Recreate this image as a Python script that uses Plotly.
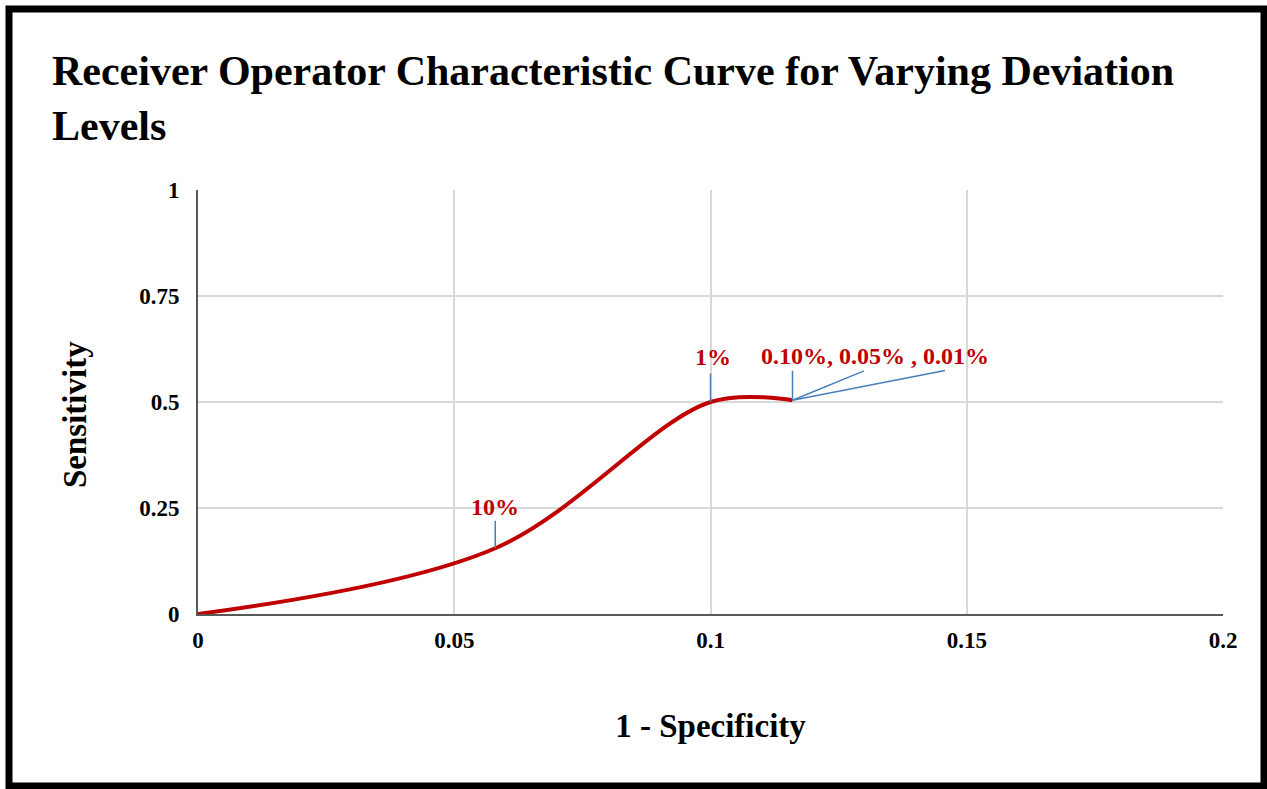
import plotly.graph_objects as go

# ROC points for each deviation level
deviation_levels = ["", "10%", "1%", "0.10%", "0.05%", "0.01%"]
false_pos_rate = [0.0, 0.058, 0.100, 0.116, 0.116, 0.116]
sensitivity = [0.0, 0.155, 0.500, 0.504, 0.504, 0.504]

x_ticks = [0, 0.05, 0.1, 0.15, 0.2]
x_tick_text = ["0", "0.05", "0.1", "0.15", "0.2"]
y_ticks = [0, 0.25, 0.5, 0.75, 1]
y_tick_text = ["0", "0.25", "0.5", "0.75", "1"]

SERIF = "Liberation Serif, Times New Roman, serif"
RED = "#c00000"
BLUE = "#4a7ebb"

W, H = 1267, 789
L, R, T, B = 198, 44, 190, 175
PW, PH = W - L - R, H - T - B


def px_x(px):
    return (px - L) / PW


def px_y(py):
    return (H - B - py) / PH


fig = go.Figure()
fig.add_trace(
    go.Scatter(
        x=false_pos_rate,
        y=sensitivity,
        mode="lines",
        line=dict(color=RED, width=4, shape="spline", smoothing=1),
        hoverinfo="skip",
        showlegend=False,
    )
)

# leader lines: (point index, tail offset x, tail offset y)
leaders = [(1, 0, -29), (2, 0, -30), (3, 0, -31), (4, 73, -30), (5, 154, -30)]
for i, ax, ay in leaders:
    fig.add_annotation(
        x=false_pos_rate[i], y=sensitivity[i], text="",
        showarrow=True, arrowhead=0, arrowwidth=1.5, arrowcolor=BLUE,
        ax=ax, ay=ay, standoff=0, startstandoff=0,
    )

label_font = dict(family=SERIF, size=24, color=RED, weight="bold")
fig.add_annotation(
    x=false_pos_rate[1], y=sensitivity[1], text=deviation_levels[1],
    showarrow=False, yshift=41, font=label_font,
)
fig.add_annotation(
    x=false_pos_rate[2], y=sensitivity[2], text=deviation_levels[2],
    showarrow=False, xshift=2, yshift=45, font=label_font,
)
fig.add_annotation(
    x=false_pos_rate[3], y=sensitivity[3],
    text=f"{deviation_levels[3]}, {deviation_levels[4]} , {deviation_levels[5]}",
    showarrow=False, xanchor="left", xshift=-34, yshift=44, font=label_font,
)

axis_title_font = dict(family=SERIF, size=33, color="black", weight="bold")

# y title as annotation (sits a little below the plot centre in the original)
fig.add_annotation(
    text="Sensitivity", textangle=-90, showarrow=False,
    xref="paper", yref="paper", x=px_x(75), y=px_y(415),
    xanchor="center", yanchor="middle", font=axis_title_font,
)

# outer black frame
fig.add_shape(
    type="rect", xref="paper", yref="paper",
    x0=px_x(9), x1=px_x(1264), y0=px_y(786), y1=px_y(9),
    line=dict(color="black", width=7), layer="above",
)

tick_font = dict(family=SERIF, size=23, color="black", weight="bold")
fig.update_layout(
    width=W, height=H,
    margin=dict(l=L, r=R, t=T, b=B),
    paper_bgcolor="white", plot_bgcolor="white",
    title=dict(
        text="Receiver Operator Characteristic Curve for Varying Deviation<br>Levels",
        x=52 / W, xanchor="left", xref="container",
        y=1 - 85 / H, yanchor="top", yref="container",
        font=dict(family=SERIF, size=42, color="black", weight="bold"),
    ),
    xaxis=dict(
        range=[0, 0.2], tickvals=x_ticks, ticktext=x_tick_text,
        showgrid=True, gridcolor="#d9d9d9", gridwidth=1.5, zeroline=False,
        showline=True, linecolor="#595959", linewidth=2,
        ticks="", ticklabelstandoff=4, tickfont=tick_font,
        title=dict(text="1 - Specificity", standoff=62, font=axis_title_font),
    ),
    yaxis=dict(
        range=[0, 1], tickvals=y_ticks, ticktext=y_tick_text,
        showgrid=True, gridcolor="#d9d9d9", gridwidth=1.5, zeroline=False,
        showline=True, linecolor="#595959", linewidth=2,
        ticks="", ticklabelstandoff=12, tickfont=tick_font,
    ),
)

fig.write_html(
    "out.html",
    config={"displayModeBar": False},
    post_script="document.body.style.margin='0';",
)
